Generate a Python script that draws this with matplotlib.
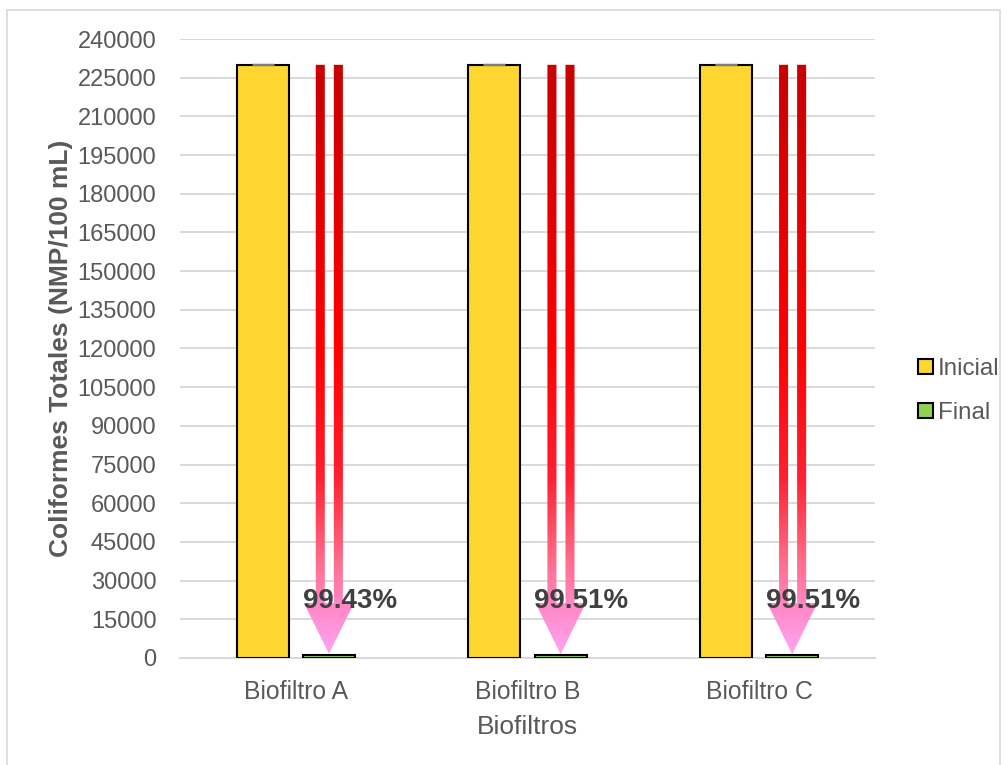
import numpy as np
import matplotlib.pyplot as plt
from matplotlib.patches import Patch, PathPatch, Rectangle
from matplotlib.path import Path
from matplotlib.colors import LinearSegmentedColormap

plt.rcParams['font.family'] = ['Liberation Sans', 'DejaVu Sans']

categorias = ['Biofiltro A', 'Biofiltro B', 'Biofiltro C']
inicial = [230000, 230000, 230000]
final = [1311, 1127, 1127]
inicial_err = [250, 250, 250]
remocion = ['99.43%', '99.51%', '99.51%']
yticks = np.arange(0, 240001, 15000)

fig = plt.figure(figsize=(10.08, 7.65), dpi=100)
ax = fig.add_axes([0.1786, 0.1399, 0.6894, 0.8091])

x = np.arange(len(categorias))
w = 0.225
off = 0.143

ax.bar(x - off, inicial, w, color='#FFD52F', edgecolor='black', linewidth=1.5, zorder=3)
ax.bar(x + off, final, w, color='#92D050', edgecolor='black', linewidth=1.5, zorder=3)
ax.errorbar(x - off, inicial, yerr=inicial_err, fmt='none', ecolor='#7f7f7f',
            capsize=8, elinewidth=1, zorder=4)

# flechas con degradado
cmap = LinearSegmentedColormap.from_list('flecha', [
    (0.0, '#FFA3F2'), (0.09, '#FF85C0'), (0.15, '#FF7090'), (0.3, '#FF2030'),
    (0.52, '#FF0000'), (1.0, '#C80000')])
grad = np.linspace(0, 1, 256).reshape(-1, 1)
for i in range(len(categorias)):
    cx = x[i] + off
    top = inicial[i]
    head_top = 21300
    tip = final[i] + 300
    verts = []
    codes = []
    for a, b in [(-0.057, -0.018), (0.021, 0.060)]:
        verts += [(cx + a, head_top), (cx + a, top), (cx + b, top), (cx + b, head_top), (cx + a, head_top)]
        codes += [Path.MOVETO, Path.LINETO, Path.LINETO, Path.LINETO, Path.CLOSEPOLY]
    verts += [(cx - 0.108, head_top), (cx + 0.108, head_top), (cx, tip), (cx - 0.108, head_top)]
    codes += [Path.MOVETO, Path.LINETO, Path.LINETO, Path.CLOSEPOLY]
    patch = PathPatch(Path(verts, codes), facecolor='none', edgecolor='none', transform=ax.transData)
    ax.add_patch(patch)
    im = ax.imshow(grad, cmap=cmap, origin='lower', aspect='auto',
                   extent=[cx - 0.11, cx + 0.11, tip, top], zorder=5)
    im.set_clip_path(patch)
    ax.text(x[i] + 0.232, 22000, remocion[i], ha='center', va='center',
            fontsize=20, fontweight='bold', color='#404040', zorder=6)

ax.set_xlim(-0.5, 2.5)
ax.set_ylim(0, 240000)
ax.set_xticks(x)
ax.set_xticklabels(categorias)
ax.set_yticks(yticks)
ax.set_yticklabels([str(v) for v in yticks])
ax.tick_params(axis='y', length=0, labelsize=17, colors='#595959', pad=17)
ax.tick_params(axis='x', length=0, labelsize=17.8, colors='#595959', pad=16)
ax.grid(axis='y', color='#D9D9D9', linewidth=1.4, zorder=0)
ax.set_axisbelow(True)
for s in ['top', 'right', 'left']:
    ax.spines[s].set_visible(False)
ax.spines['bottom'].set_color('#D9D9D9')
ax.spines['bottom'].set_linewidth(1.4)

ax.set_xlabel('Biofiltros', fontsize=19, color='#595959', labelpad=8)
ax.set_ylabel('Coliformes Totales (NMP/100 mL)', fontsize=19, fontweight='bold',
              color='#595959', labelpad=3)

handles = [Patch(facecolor='#FFD52F', edgecolor='black', linewidth=1.5, label='Inicial'),
           Patch(facecolor='#92D050', edgecolor='black', linewidth=1.5, label='Final')]
fig.legend(handles=handles, loc='center left', bbox_to_anchor=(0.911, 0.489), frameon=False,
           fontsize=17.4, labelcolor='#595959', handlelength=0.6, handleheight=0.6,
           handletextpad=0.2, labelspacing=0.9, borderaxespad=0, borderpad=0)

fig.patches.append(Rectangle((0.007, -0.01), 0.985, 0.997, transform=fig.transFigure,
                             fill=False, edgecolor='#D9D9D9', linewidth=1.2))

fig.savefig('out.png', dpi=100)
